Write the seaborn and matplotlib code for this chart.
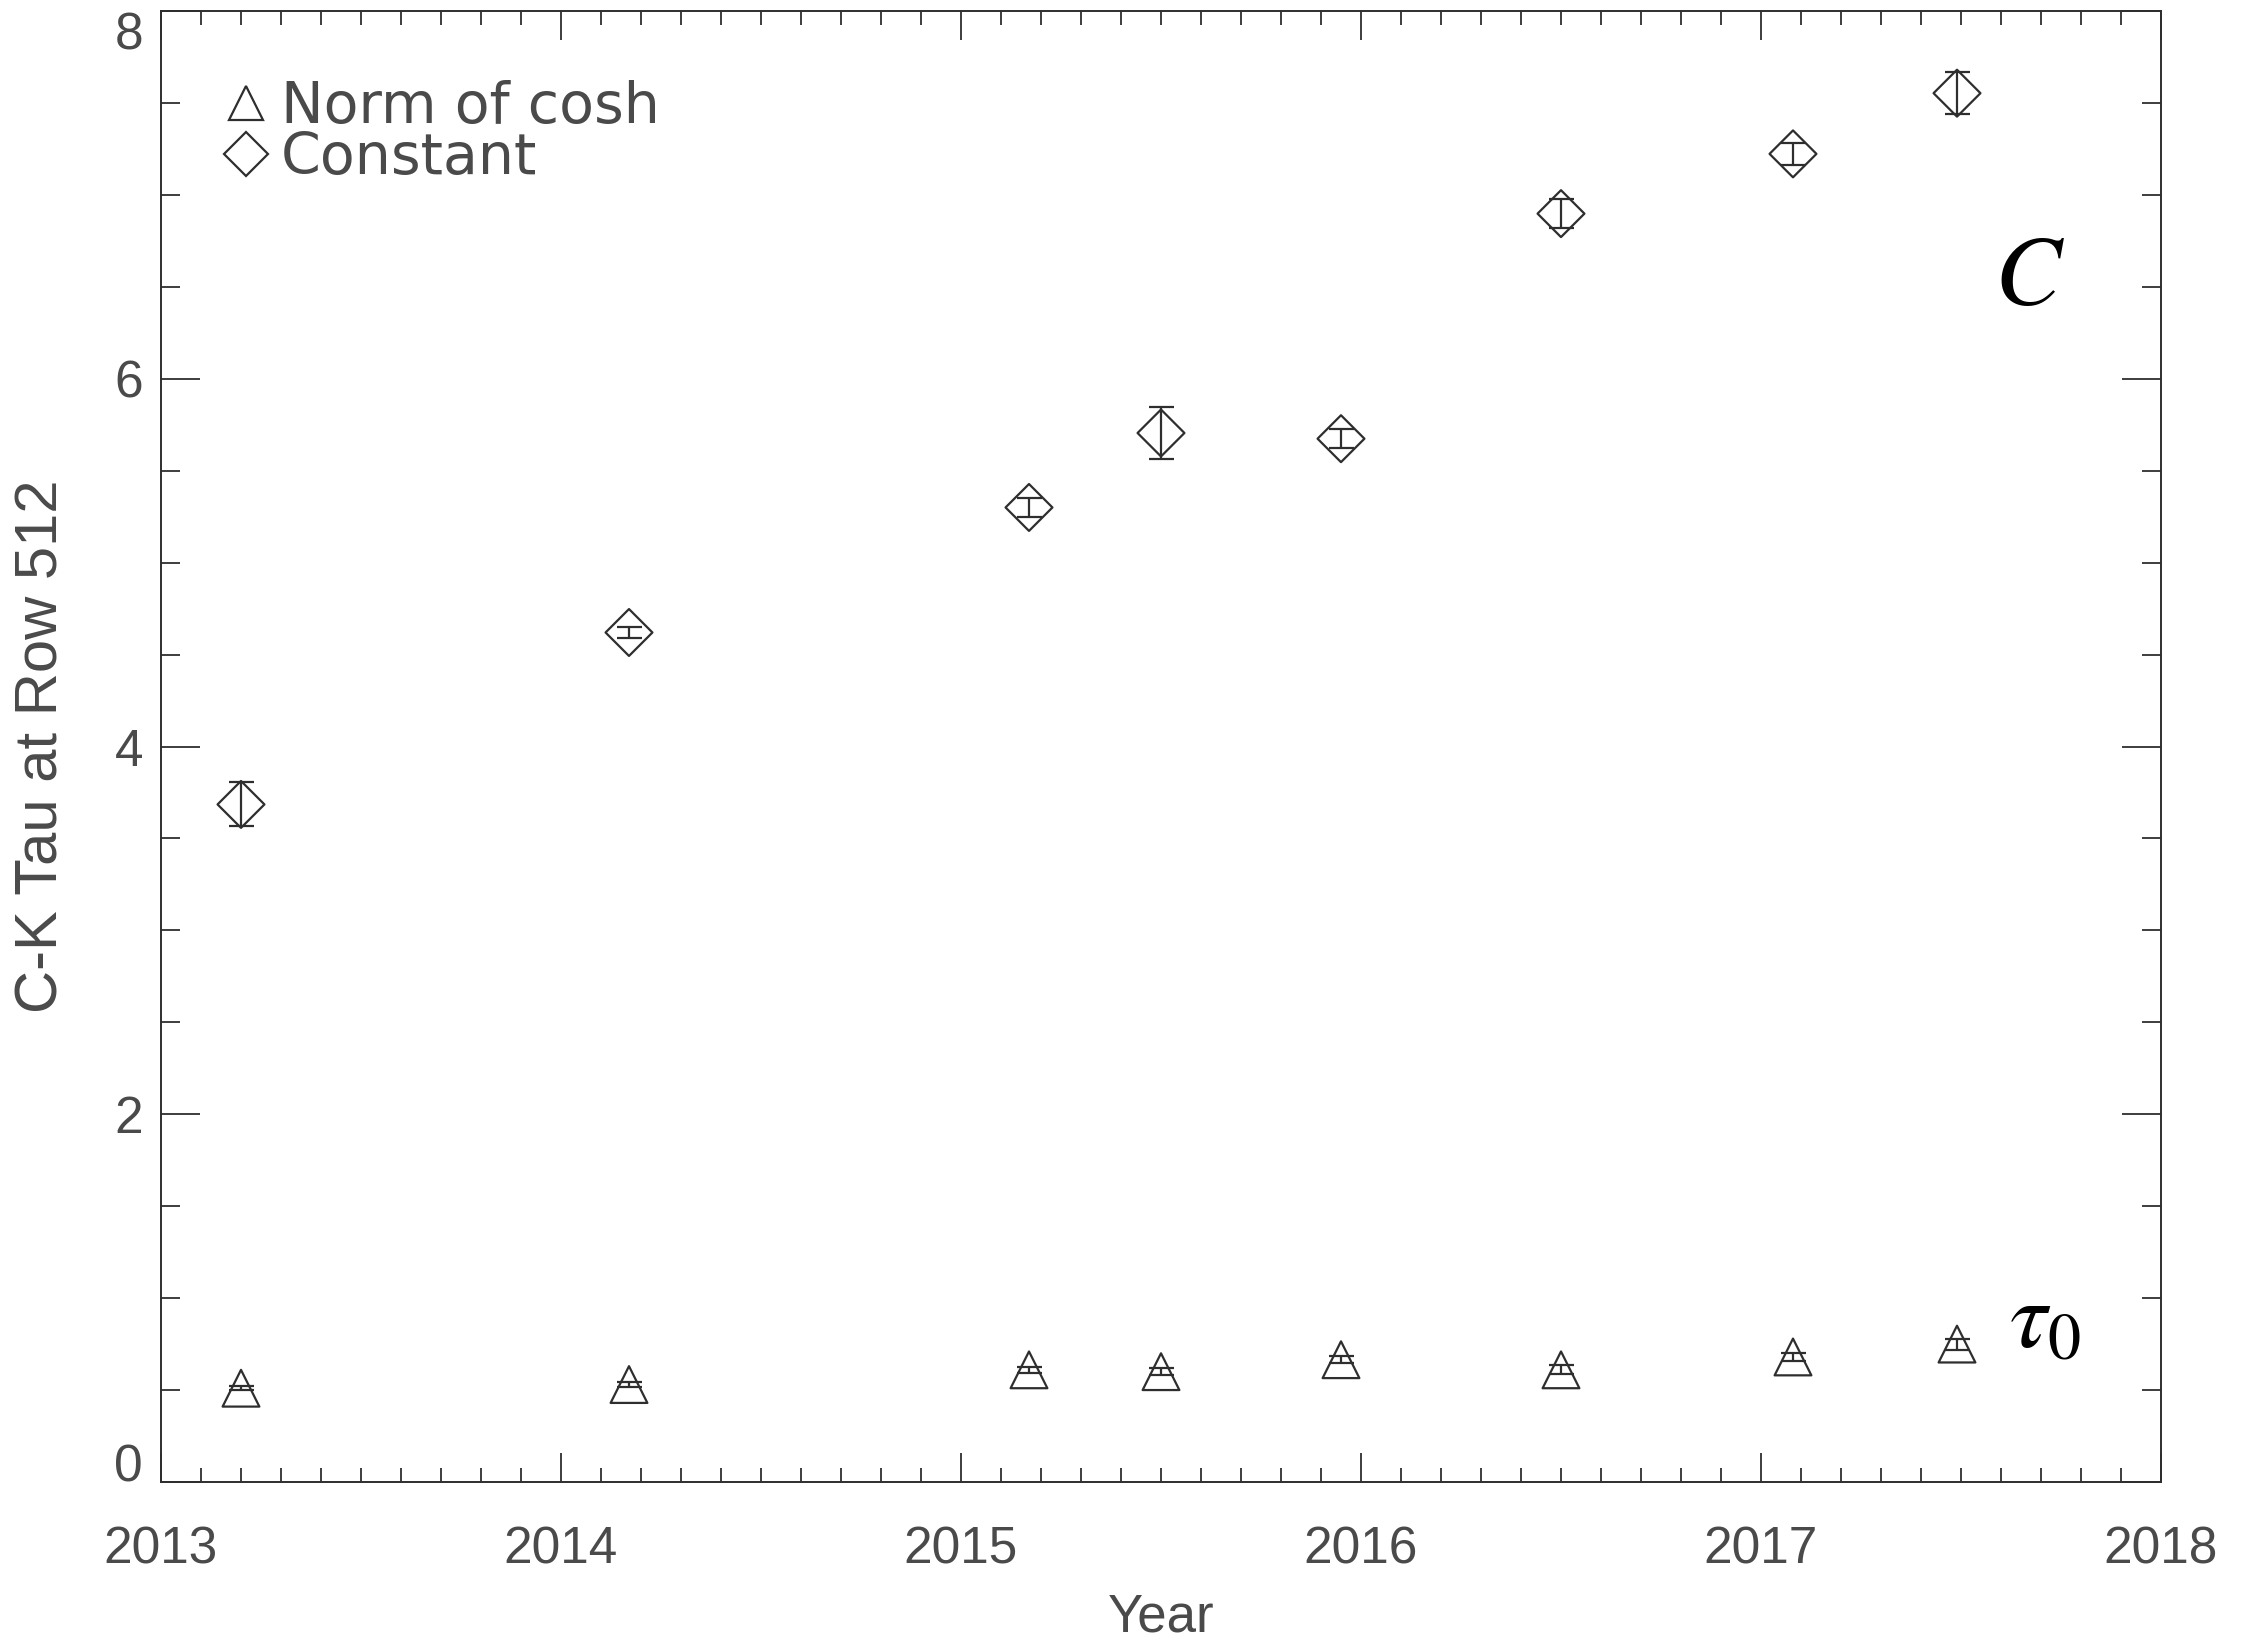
import numpy as np
import pandas as pd
import matplotlib
matplotlib.use("Agg")
import matplotlib.pyplot as plt
from matplotlib.lines import Line2D
from matplotlib.ticker import MultipleLocator, FormatStrFormatter
import seaborn as sns

# Observation epochs (decimal year)
years = [2013.20, 2014.17, 2015.17, 2015.50, 2015.95, 2016.50, 2017.08, 2017.49]

# Fitted tau at row 512: normalisation of the cosh term and the constant term
norm_cosh = [0.51, 0.53, 0.61, 0.60, 0.665, 0.61, 0.68, 0.75]
norm_cosh_err = [0.012, 0.015, 0.015, 0.02, 0.02, 0.025, 0.02, 0.03]
constant = [3.685, 4.62, 5.30, 5.705, 5.674, 6.898, 7.223, 7.553]
constant_err = [0.12, 0.03, 0.05, 0.14, 0.05, 0.08, 0.06, 0.115]

series_names = ["Norm of cosh", "Constant"]
x_ticks = [2013, 2014, 2015, 2016, 2017, 2018]
y_ticks = [0, 2, 4, 6, 8]

sns.set_theme(style="ticks")
plt.rcParams["font.family"] = ["Liberation Sans", "DejaVu Sans"]
plt.rcParams["mathtext.fontset"] = "stix"

ink = "#2e2e2e"
text_gray = "#4a4a4a"

df = pd.DataFrame({
    "year": years + years,
    "tau": norm_cosh + constant,
    "fit": [series_names[0]] * len(years) + [series_names[1]] * len(years),
})

fig = plt.figure(figsize=(22.49, 16.41), dpi=100)
ax = fig.add_axes([161 / 2249, 1 - 1482 / 1641, 2000 / 2249, 1471 / 1641])

sns.scatterplot(
    data=df, x="year", y="tau", style="fit", size="fit",
    markers={series_names[0]: "^", series_names[1]: "D"},
    sizes={series_names[0]: 700, series_names[1]: 570},
    color=ink, facecolors="none", edgecolor=ink, linewidth=1.6,
    legend=False, ax=ax, zorder=3,
)

ax.errorbar(years, constant, yerr=constant_err, fmt="none", ecolor=ink,
            elinewidth=1.6, capsize=9, capthick=1.6, zorder=4)
ax.errorbar(years, norm_cosh, yerr=norm_cosh_err, fmt="none", ecolor=ink,
            elinewidth=1.6, capsize=9, capthick=1.6, zorder=4)

ax.set_xlim(2013, 2018)
ax.set_ylim(0, 8)
ax.set_xticks(x_ticks)
ax.set_yticks(y_ticks)
ax.xaxis.set_major_formatter(FormatStrFormatter("%d"))
ax.yaxis.set_major_formatter(FormatStrFormatter("%d"))
ax.xaxis.set_minor_locator(MultipleLocator(0.1))
ax.yaxis.set_minor_locator(MultipleLocator(0.5))

for sp in ax.spines.values():
    sp.set_visible(True)
    sp.set_color(ink)
    sp.set_linewidth(1.4)

ax.tick_params(which="both", direction="in", top=True, right=True,
               color=ink, width=1.3, labelcolor=text_gray)
ax.tick_params(axis="x", which="major", length=21, pad=31)
ax.tick_params(axis="x", which="minor", length=10)
ax.tick_params(axis="y", which="major", length=28, pad=13)
ax.tick_params(axis="y", which="minor", length=14)

for lab in ax.get_xticklabels() + ax.get_yticklabels():
    lab.set_fontsize(37)

# keep the end labels of the value axis inside the frame height
yticks = ax.yaxis.get_major_ticks()
yticks[0].label1.set_verticalalignment("baseline")
yticks[-1].label1.set_verticalalignment("top")

ax.set_xlabel("Year", fontsize=38, color=text_gray)
ax.set_ylabel("C-K Tau at Row 512", fontsize=43, color=text_gray)
ax.xaxis.set_label_coords(0.5, -0.075)
ax.yaxis.set_label_coords(-0.0455, 0.5)

ax.text(2017.67, 6.54, r"$C$", fontsize=72, color="black", ha="center", va="center")
ax.text(2017.71, 0.87, r"$\tau_0$", fontsize=68, color="black", ha="center", va="center")

handles = [
    Line2D([], [], marker="^", ls="none", ms=24.5, mfc="none", mec=ink, mew=1.6,
           label=series_names[0]),
    Line2D([], [], marker="D", ls="none", ms=22.4, mfc="none", mec=ink, mew=1.6,
           label=series_names[1]),
]
ax.legend(handles=handles, loc="upper left", bbox_to_anchor=(0.0285, 0.953),
          frameon=False, handlelength=1.0, handletextpad=0.1, labelspacing=-0.07,
          borderpad=0, borderaxespad=0, labelcolor=text_gray,
          prop={"family": ["DejaVu Sans"], "size": 41})

fig.savefig("out.png", dpi=100, facecolor="white")
